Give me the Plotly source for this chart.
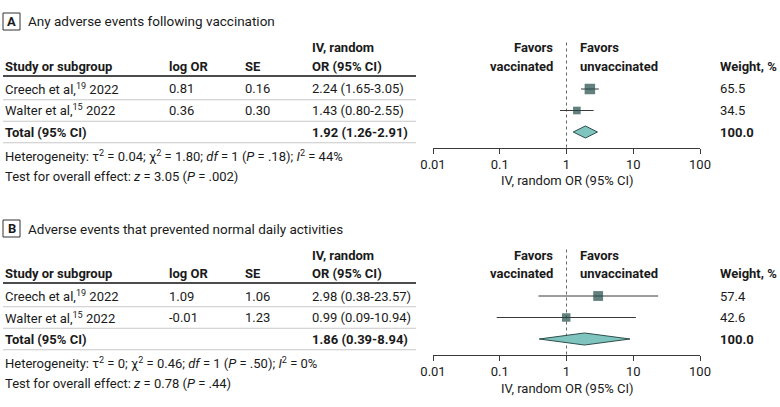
import plotly.graph_objects as go

W, H = 780, 407

# ---------------- data ----------------
panel_letters = ["A", "B"]
panel_titles = ["Any adverse events following vaccination",
                "Adverse events that prevented normal daily activities"]
studies = ["Creech et al,<sup>19</sup> 2022", "Walter et al,<sup>15</sup> 2022"]
log_or = [["0.81", "0.36"], ["1.09", "-0.01"]]
se = [["0.16", "0.30"], ["1.06", "1.23"]]
or_est = [[2.24, 1.43], [2.98, 0.99]]
or_lo = [[1.65, 0.80], [0.38, 0.09]]
or_hi = [[3.05, 2.55], [23.57, 10.94]]
weights = [[65.5, 34.5], [57.4, 42.6]]
total_est = [1.92, 1.86]
total_lo = [1.26, 0.39]
total_hi = [2.91, 8.94]
total_weight = ["100.0", "100.0"]
heterogeneity = [
    "Heterogeneity: τ<sup>2</sup> = 0.04; χ<sup>2</sup> = 1.80; <i>df</i> = 1 (<i>P</i> = .18); <i>I</i><sup>2</sup> = 44%",
    "Heterogeneity: τ<sup>2</sup> = 0; χ<sup>2</sup> = 0.46; <i>df</i> = 1 (<i>P</i> = .50); <i>I</i><sup>2</sup> = 0%",
]
overall = [
    "Test for overall effect: <i>z</i> = 3.05 (<i>P</i> = .002)",
    "Test for overall effect: <i>z</i> = 0.78 (<i>P</i> = .44)",
]
tick_vals = [0.01, 0.1, 1, 10, 100]
tick_text = ["0.01", "0.1", "1", "10", "100"]

# ---------------- style ----------------
FONT = "Roboto, Arial, sans-serif"
TXT = "#1a1a1a"
SQ = "#1f4c47"
DIA = "#7fc4bf"
LINE = "#3a3a3a"
FS = 13

row0_px = [89, 296]
spacing = 21.5
top_px = [42, 249]
axis_px = [147.5, 354.5]
offsets = [0, 207]

def px(x):
    return x / W

def py(y):
    return 1 - y / H

fig = go.Figure()
annotations = []
shapes = []

X0, X1 = 433, 700

for p in range(2):
    ax = "" if p == 0 else "2"
    xa, ya = "x" + ax, "y" + ax
    off = offsets[p]
    r0 = row0_px[p]
    ymin = (axis_px[p] - r0) / spacing
    ymax = (top_px[p] - r0) / spacing

    fig.update_layout(**{
        "xaxis" + ax: dict(domain=[px(X0), px(X1)], type="log", range=[-2, 2],
                           tickvals=tick_vals, ticktext=tick_text,
                           ticks="outside", ticklen=5, tickcolor=LINE, tickwidth=1,
                           showline=True, linecolor=LINE, linewidth=1,
                           showgrid=False, zeroline=False, anchor=ya, automargin=False,
                           tickfont=dict(family=FONT, size=FS, color=TXT)),
        "yaxis" + ax: dict(domain=[py(axis_px[p]), py(top_px[p])], automargin=False,
                           range=[ymin, ymax], visible=False, anchor=xa),
    })

    idx = [0, 1]
    fig.add_trace(go.Scatter(
        x=or_est[p], y=idx, xaxis=xa, yaxis=ya, mode="markers",
        marker=dict(symbol="square", color=SQ,
                    size=[w ** 0.5 * 1.3 for w in weights[p]], line=dict(width=0)),
        error_x=dict(type="data", symmetric=False,
                     array=[h - e for h, e in zip(or_hi[p], or_est[p])],
                     arrayminus=[e - l for e, l in zip(or_est[p], or_lo[p])],
                     width=0, thickness=1, color=LINE),
        showlegend=False, hoverinfo="skip", cliponaxis=False))

    hh = 0.28
    fig.add_trace(go.Scatter(
        x=[total_lo[p], total_est[p], total_hi[p], total_est[p], total_lo[p]],
        y=[2, 2 - hh, 2, 2 + hh, 2], xaxis=xa, yaxis=ya, mode="lines",
        fill="toself", fillcolor=DIA, line=dict(color="#2f4f4c", width=1),
        showlegend=False, hoverinfo="skip"))

    shapes.append(dict(type="line", xref=xa, x0=1, x1=1, yref=ya + " domain", y0=0, y1=1,
                       line=dict(color="#666666", width=1, dash="dot"), layer="below"))

    shapes.append(dict(type="rect", xref="paper", yref="paper",
                       x0=px(3), x1=px(20), y0=py(13 + off), y1=py(30 + off),
                       line=dict(color="#333333", width=1)))
    annotations.append(dict(text="<b>" + panel_letters[p] + "</b>", xref="paper", yref="paper",
                            x=px(11.5), y=py(21.5 + off), showarrow=False,
                            xanchor="center", yanchor="middle",
                            font=dict(family=FONT, size=FS, color=TXT)))
    annotations.append(dict(text=panel_titles[p], xref="paper", yref="paper",
                            x=px(26), y=py(21.5 + off), showarrow=False,
                            xanchor="left", yanchor="middle",
                            font=dict(family=FONT, size=FS + 0.5, color=TXT)))

    def cell(text, x, yi, anchor="left", bold=False):
        t = "<b>" + text + "</b>" if bold else text
        annotations.append(dict(text=t, xref="paper", yref=ya, x=px(x), y=yi,
                                showarrow=False, xanchor=anchor, yanchor="middle",
                                font=dict(family=FONT, size=FS, color=TXT)))

    hdr2 = (66.5 + off - r0) / spacing
    hdr1 = (48 + off - r0) / spacing
    cell("Study or subgroup", 3, hdr2, bold=True)
    cell("log OR", 167, hdr2, bold=True)
    cell("SE", 243, hdr2, bold=True)
    cell("IV, random", 310, hdr1, bold=True)
    cell("OR (95% CI)", 310, hdr2, bold=True)
    cell("Favors", 555, hdr1, anchor="right", bold=True)
    cell("vaccinated", 555, hdr2, anchor="right", bold=True)
    cell("Favors", 578, hdr1, bold=True)
    cell("unvaccinated", 578, hdr2, bold=True)
    cell("Weight, %", 718, hdr2, bold=True)

    for i in range(2):
        cell(studies[i], 3, i)
        cell(log_or[p][i], 167, i)
        cell(se[p][i], 243, i)
        cell(f"{or_est[p][i]:.2f} ({or_lo[p][i]:.2f}-{or_hi[p][i]:.2f})", 310, i)
        cell(f"{weights[p][i]:.1f}", 718, i)
    cell("Total (95% CI)", 3, 2, bold=True)
    cell(f"{total_est[p]:.2f} ({total_lo[p]:.2f}-{total_hi[p]:.2f})", 310, 2, bold=True)
    cell(total_weight[p], 718, 2, bold=True)

    shapes.append(dict(type="line", xref="paper", yref=ya, x0=px(3), x1=px(416),
                       y0=-0.6, y1=-0.6, line=dict(color="#111111", width=1.5)))
    for yv in [0.5, 1.5, 2.5]:
        shapes.append(dict(type="line", xref="paper", yref=ya, x0=px(3), x1=px(416),
                           y0=yv, y1=yv, line=dict(color="#c8c8c8", width=1)))

    annotations.append(dict(text=heterogeneity[p], xref="paper", yref="paper",
                            x=px(3), y=py(156 + off), showarrow=False,
                            xanchor="left", yanchor="middle",
                            font=dict(family=FONT, size=FS, color=TXT)))
    annotations.append(dict(text=overall[p], xref="paper", yref="paper",
                            x=px(3), y=py(176.5 + off), showarrow=False,
                            xanchor="left", yanchor="middle",
                            font=dict(family=FONT, size=FS, color=TXT)))
    annotations.append(dict(text="IV, random OR (95% CI)", xref="paper", yref="paper",
                            x=px(566.5), y=py(181 + off), showarrow=False,
                            xanchor="center", yanchor="middle",
                            font=dict(family=FONT, size=FS, color=TXT)))

fig.update_layout(width=W, height=H, margin=dict(l=0, r=0, t=0, b=0, autoexpand=False),
                  plot_bgcolor="white", paper_bgcolor="white",
                  annotations=annotations, shapes=shapes,
                  font=dict(family=FONT, size=FS, color=TXT))

fig.write_html("out.html", config={"displayModeBar": False},
               post_script="document.body.style.margin='0';document.body.style.overflow='hidden';")
